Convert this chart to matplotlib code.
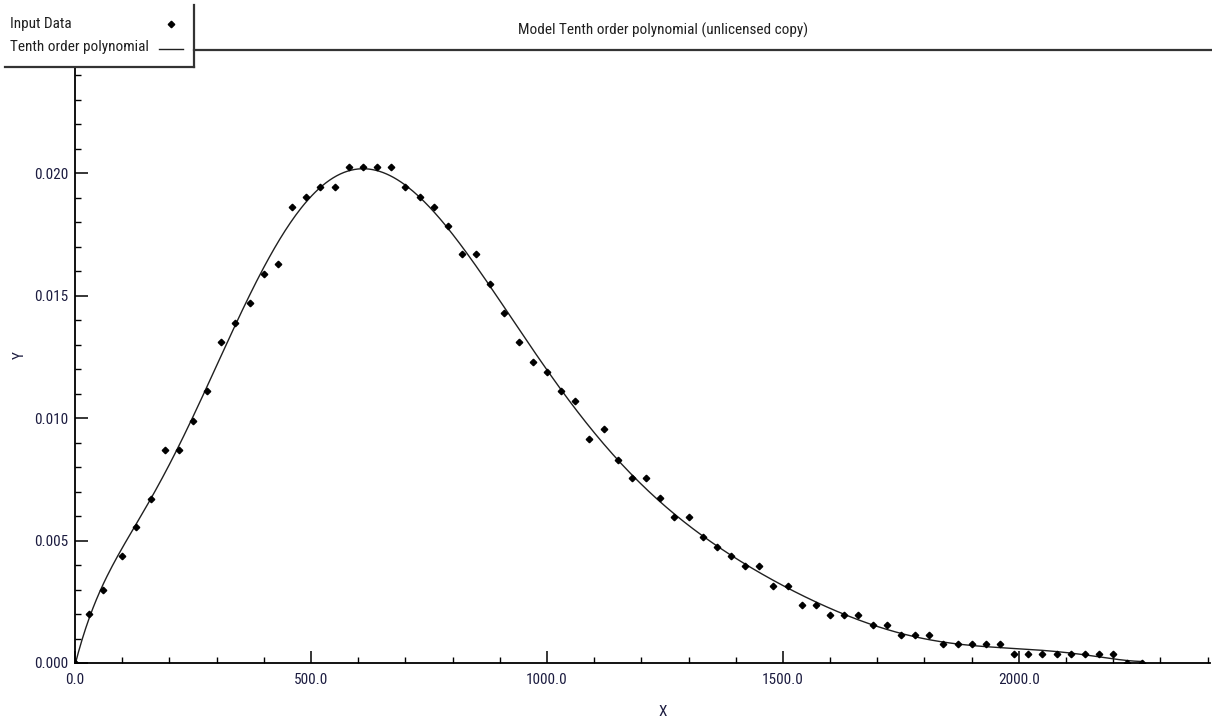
import numpy as np
import matplotlib
matplotlib.use("Agg")
import matplotlib.pyplot as plt
from matplotlib import font_manager
from matplotlib.lines import Line2D
from matplotlib.patches import Rectangle
from matplotlib.ticker import MultipleLocator, FormatStrFormatter

# The reference uses a narrow sans font; take one if the machine has it
narrow = None
for fam in ["Liberation Sans Narrow", "Arial Narrow", "Roboto Condensed",
            "Open Sans Condensed", "Noto Sans Condensed"]:
    try:
        font_manager.findfont(font_manager.FontProperties(family=fam), fallback_to_default=False)
        narrow = fam
        break
    except ValueError:
        pass
stretch = "normal"
if narrow is None:
    path = font_manager.findfont(font_manager.FontProperties(family="DejaVu Sans", stretch="condensed"))
    if "Condensed" in path:
        narrow, stretch = "DejaVu Sans", "condensed"
if narrow is None:
    plt.rcParams["font.family"] = ["Liberation Sans", "DejaVu Sans"]
    fs = 10
else:
    plt.rcParams["font.family"] = [narrow, "Liberation Sans", "DejaVu Sans"]
    plt.rcParams["font.stretch"] = stretch
    fs = 11

# Input data
x_data = [0, 30, 60, 100, 130, 160, 190, 220, 250, 280,
          310, 340, 370, 400, 430, 460, 490, 520, 550, 580,
          610, 640, 670, 700, 730, 760, 790, 820, 850, 880,
          910, 940, 970, 1000, 1030, 1060, 1090, 1120, 1150, 1180,
          1210, 1240, 1270, 1300, 1330, 1360, 1390, 1420, 1450, 1480,
          1510, 1540, 1570, 1600, 1630, 1660, 1690, 1720, 1750, 1780,
          1810, 1840, 1870, 1900, 1930, 1960, 1990, 2020, 2050, 2080,
          2110, 2140, 2170, 2200, 2230, 2260]
y_data = [0.0, 0.00198, 0.00296, 0.00437, 0.00554, 0.00671, 0.00871, 0.00871, 0.00989, 0.01111,
          0.01310, 0.01388, 0.01469, 0.01586, 0.01627, 0.01861, 0.01902, 0.01944, 0.01944, 0.02026,
          0.02026, 0.02026, 0.02026, 0.01944, 0.01902, 0.01861, 0.01785, 0.01668, 0.01668, 0.01546,
          0.01430, 0.01311, 0.01229, 0.01188, 0.01111, 0.01071, 0.00913, 0.00954, 0.00829, 0.00754,
          0.00754, 0.00672, 0.00596, 0.00596, 0.00514, 0.00472, 0.00437, 0.00396, 0.00396, 0.00314,
          0.00314, 0.00238, 0.00238, 0.00197, 0.00197, 0.00197, 0.00155, 0.00155, 0.00114, 0.00114,
          0.00114, 0.00079, 0.00079, 0.00079, 0.00079, 0.00079, 0.00038, 0.00038, 0.00038, 0.00038,
          0.00038, 0.00038, 0.00038, 0.00038, 0.0, 0.0]

title = "Model Tenth order polynomial (unlicensed copy)"
series_names = ["Input Data", "Tenth order polynomial"]
tick_color = "#1c1c40"

# Tenth order polynomial model fitted to the input data
x = np.array(x_data, dtype=float)
y = np.array(y_data)
model = np.polynomial.Polynomial.fit(x, y, 10)
x_fit = np.linspace(x.min(), x.max(), 600)
y_fit = model(x_fit)

W, H = 1212, 725
fig = plt.figure(figsize=(W / 100, H / 100), dpi=100)
ax = fig.add_axes([75 / W, 1 - 663 / H, (1210 - 75) / W, (663 - 53) / H])

ax.plot(x_fit, y_fit, color="#202020", lw=1.0, zorder=2)
ax.plot(x, y, linestyle="none", marker="D", markersize=3.3, color="black", zorder=3)

ax.set_xlim(0, 2405)
ax.set_ylim(0, 0.0249)

for side in ["top", "right"]:
    ax.spines[side].set_visible(False)
for side in ["left", "bottom"]:
    ax.spines[side].set_linewidth(1.3)
    ax.spines[side].set_color("black")

ax.xaxis.set_major_locator(MultipleLocator(500))
ax.xaxis.set_minor_locator(MultipleLocator(100))
ax.yaxis.set_major_locator(MultipleLocator(0.005))
ax.yaxis.set_minor_locator(MultipleLocator(0.001))
ax.xaxis.set_major_formatter(FormatStrFormatter("%.1f"))
ax.yaxis.set_major_formatter(FormatStrFormatter("%.3f"))
ax.tick_params(which="major", direction="in", length=9, width=1.1, color="black",
               labelsize=fs, labelcolor=tick_color)
ax.tick_params(which="minor", direction="in", length=4, width=1.0, color="black")
ax.tick_params(axis="x", pad=7)
ax.tick_params(axis="y", pad=5)

fig.text(663 / W, 1 - 712 / H, "X", ha="center", va="center", fontsize=fs, color=tick_color)
fig.text(20 / W, 1 - 355 / H, "Y", ha="center", va="center", rotation=90,
         fontsize=fs, color=tick_color)

# Title band and legend box (white box covers the top of the y axis)
fig.add_artist(Rectangle((0, 1 - 67 / H), 194 / W, 67 / H, transform=fig.transFigure,
                         facecolor="white", edgecolor="none", zorder=5))
fig.text(663 / W, 1 - 30 / H, title, ha="center", va="center", fontsize=fs, color="#202020")
fig.add_artist(Line2D([194 / W, 1], [1 - 50 / H, 1 - 50 / H], transform=fig.transFigure,
                      color="#333333", lw=1.6, zorder=6))
fig.add_artist(Line2D([5 / W, 194 / W], [1 - 67 / H, 1 - 67 / H], transform=fig.transFigure,
                      color="#333333", lw=1.6, zorder=6))
fig.add_artist(Line2D([194 / W, 194 / W], [1 - 5 / H, 1 - 67 / H], transform=fig.transFigure,
                      color="#333333", lw=1.6, zorder=6))
fig.text(10 / W, 1 - 24 / H, series_names[0], ha="left", va="center", fontsize=fs,
         color="#202020", zorder=7)
fig.text(10 / W, 1 - 47 / H, series_names[1], ha="left", va="center", fontsize=fs,
         color="#202020", zorder=7)
fig.add_artist(Line2D([171 / W], [1 - 24 / H], transform=fig.transFigure, linestyle="none",
                      marker="D", markersize=3.3, color="black", zorder=7))
fig.add_artist(Line2D([159 / W, 183 / W], [1 - 49 / H, 1 - 49 / H], transform=fig.transFigure,
                      color="#202020", lw=1.0, zorder=7))

fig.savefig("out.png", dpi=100)
